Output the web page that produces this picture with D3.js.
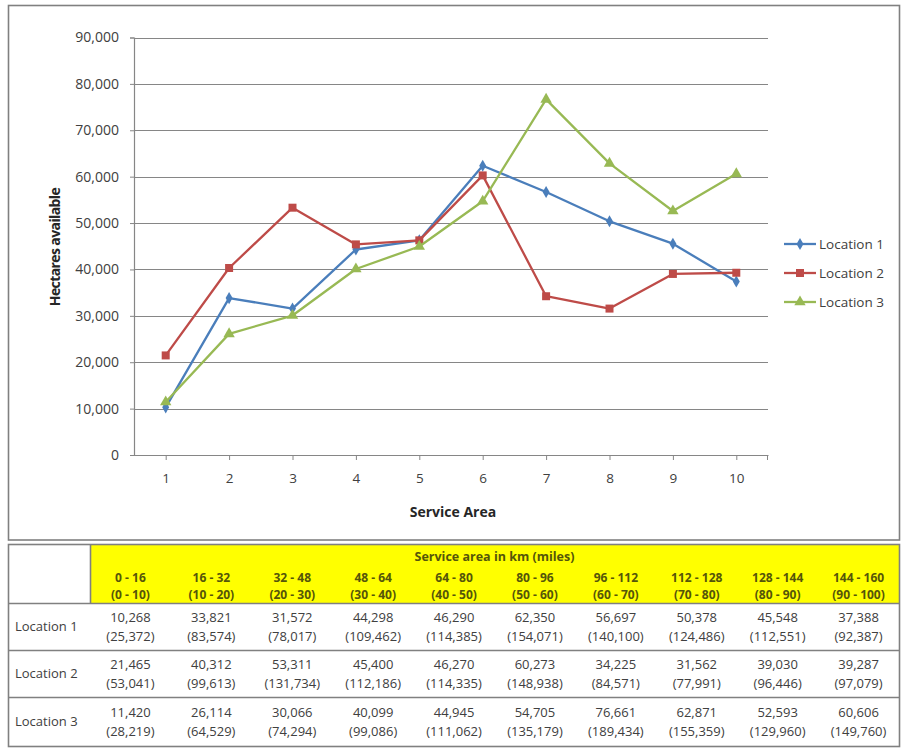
<!DOCTYPE html>
<html>
<head>
<meta charset="utf-8">
<script src="https://cdn.jsdelivr.net/npm/d3@7"></script>
<style>
  html, body { margin: 0; padding: 0; background: #fff; }
  svg { display: block; font-family: "Open Sans", "Liberation Sans", sans-serif; }
</style>
</head>
<body>
<svg id="chart" width="904" height="755"></svg>
<script>
// ---------- DATA ----------
const categories = ["1", "2", "3", "4", "5", "6", "7", "8", "9", "10"];
const seriesNames = ["Location 1", "Location 2", "Location 3"];
const location1 = [10268, 33821, 31572, 44298, 46290, 62350, 56697, 50378, 45548, 37388];
const location2 = [21465, 40312, 53311, 45400, 46270, 60273, 34225, 31562, 39030, 39287];
const location3 = [11420, 26114, 30066, 40099, 44945, 54705, 76661, 62871, 52593, 60606];
const location1Acres = ["25,372", "83,574", "78,017", "109,462", "114,385", "154,071", "140,100", "124,486", "112,551", "92,387"];
const location2Acres = ["53,041", "99,613", "131,734", "112,186", "114,335", "148,938", "84,571", "77,991", "96,446", "97,079"];
const location3Acres = ["28,219", "64,529", "74,294", "99,086", "111,062", "135,179", "189,434", "155,359", "129,960", "149,760"];
const kmRanges = ["0 - 16", "16 - 32", "32 - 48", "48 - 64", "64 - 80", "80 - 96", "96 - 112", "112 - 128", "128 - 144", "144 - 160"];
const mileRanges = ["(0 - 10)", "(10 - 20)", "(20 - 30)", "(30 - 40)", "(40 - 50)", "(50 - 60)", "(60 - 70)", "(70 - 80)", "(80 - 90)", "(90 - 100)"];
const yTicks = [0, 10000, 20000, 30000, 40000, 50000, 60000, 70000, 80000, 90000];
const xTitle = "Service Area";
const yTitle = "Hectares available";
const tableTitle = "Service area in km (miles)";

// ---------- STYLE ----------
const colors = ["#4a7ebb", "#be4b48", "#98b954"];
const textCol = "#404040";
const gridCol = "#868686";
const borderCol = "#808080";
const headerText = "#55550a";

const svg = d3.select("#chart");
const fmt = d3.format(",");

// chart frame
svg.append("rect").attr("x", 8.5).attr("y", 5.5).attr("width", 891).attr("height", 534.5)
  .attr("fill", "#fff").attr("stroke", borderCol).attr("stroke-width", 1.6);

const plot = { left: 134, right: 768, top: 37.5, bottom: 455 };
const x = d3.scalePoint().domain(categories).range([plot.left, plot.right]).padding(0.5);
const y = d3.scaleLinear().domain([0, 90000]).range([plot.bottom, plot.top]);

// gridlines
svg.append("g").selectAll("line").data(yTicks.filter(d => d > 0)).join("line")
  .attr("x1", plot.left).attr("x2", plot.right)
  .attr("y1", d => Math.round(y(d)) + 0.5).attr("y2", d => Math.round(y(d)) + 0.5)
  .attr("stroke", gridCol).attr("stroke-width", 1.2);

// y axis
const yAxis = svg.append("g").attr("transform", `translate(${plot.left},0)`)
  .call(d3.axisLeft(y).tickValues(yTicks).tickFormat(fmt).tickSize(4).tickPadding(11));
yAxis.select(".domain").attr("stroke", gridCol).attr("stroke-width", 1.2);
yAxis.selectAll(".tick line").attr("stroke", gridCol);
yAxis.selectAll("text").attr("fill", textCol).style("font-size", "14px")
  .style("font-family", "'Open Sans', sans-serif");

// x axis
const xAxis = svg.append("g").attr("transform", `translate(0,${plot.bottom})`)
  .call(d3.axisBottom(x).tickSizeInner(5).tickSizeOuter(0).tickPadding(13));
xAxis.select(".domain").attr("stroke", gridCol).attr("stroke-width", 1.2);
xAxis.selectAll(".tick line").attr("stroke", gridCol);
xAxis.selectAll("text").attr("fill", textCol).style("font-size", "13.5px")
  .style("font-family", "'Open Sans', sans-serif");
// end tick
xAxis.append("line").attr("x1", plot.right - 0.5).attr("x2", plot.right - 0.5)
  .attr("y1", 0).attr("y2", 5).attr("stroke", gridCol);

// axis titles
svg.append("text").attr("x", (plot.left + plot.right) / 2 + 2).attr("y", 517)
  .attr("text-anchor", "middle").attr("fill", "#262626")
  .style("font-size", "14px").style("font-weight", "bold").text(xTitle);
svg.append("text").attr("transform", `translate(60,247) rotate(-90)`)
  .attr("text-anchor", "middle").attr("fill", "#262626")
  .style("font-size", "14px").style("font-weight", "bold").style("letter-spacing", "-0.6px")
  .text(yTitle);

// series
const series = [location1, location2, location3];
const line = d3.line().x((d, i) => x(categories[i])).y(d => y(d));
const symbols = [d3.symbolDiamond, d3.symbolSquare, d3.symbolTriangle];
const symSizes = [42, 64, 56];

series.forEach((vals, si) => {
  const g = svg.append("g");
  g.append("path").datum(vals).attr("d", line).attr("fill", "none")
    .attr("stroke", colors[si]).attr("stroke-width", 2.3).attr("stroke-linejoin", "round");
  g.selectAll("path.m").data(vals).join("path").attr("class", "m")
    .attr("transform", (d, i) => `translate(${x(categories[i])},${y(d)})`)
    .attr("d", d3.symbol().type(symbols[si]).size(symSizes[si]))
    .attr("fill", colors[si]);
});

// legend
const legY = [244, 273, 302];
seriesNames.forEach((name, i) => {
  const g = svg.append("g").attr("transform", `translate(784,${legY[i]})`);
  g.append("line").attr("x1", 0).attr("x2", 32).attr("y1", 0).attr("y2", 0)
    .attr("stroke", colors[i]).attr("stroke-width", 2.3);
  g.append("path").attr("transform", "translate(16,0)")
    .attr("d", d3.symbol().type(symbols[i]).size(symSizes[i])).attr("fill", colors[i]);
  g.append("text").attr("x", 35).attr("y", 0).attr("dy", "0.35em")
    .attr("fill", textCol).style("font-size", "13.5px").text(name);
});

// ---------- TABLE ----------
const tbl = { left: 8, right: 899, top: 544, labelW: 82 };
const rowY = [544, 603, 650, 697, 746];
const colX = d3.scaleBand().domain(categories).range([tbl.left + tbl.labelW, tbl.right]);

const t = svg.append("g");
t.append("rect").attr("x", colX.range()[0]).attr("y", rowY[0])
  .attr("width", tbl.right - colX.range()[0]).attr("height", rowY[1] - rowY[0]).attr("fill", "#ffff00");
t.append("rect").attr("x", tbl.left + 0.5).attr("y", rowY[0] + 0.5)
  .attr("width", tbl.right - tbl.left).attr("height", rowY[4] - rowY[0])
  .attr("fill", "none").attr("stroke", borderCol).attr("stroke-width", 1.6);
rowY.slice(1, 4).forEach(ry => {
  t.append("line").attr("x1", tbl.left).attr("x2", tbl.right).attr("y1", ry + 0.5).attr("y2", ry + 0.5)
    .attr("stroke", borderCol).attr("stroke-width", 1.6);
});
t.append("line").attr("x1", colX.range()[0] + 0.5).attr("x2", colX.range()[0] + 0.5)
  .attr("y1", rowY[0]).attr("y2", rowY[1]).attr("stroke", borderCol).attr("stroke-width", 1.6);

// header
t.append("text").attr("x", (colX.range()[0] + tbl.right) / 2).attr("y", 561)
  .attr("text-anchor", "middle").attr("fill", headerText)
  .style("font-size", "12.5px").style("font-weight", "bold").text(tableTitle);
categories.forEach((c, i) => {
  const cx = colX(c) + colX.bandwidth() / 2;
  t.append("text").attr("x", cx).attr("y", 582).attr("text-anchor", "middle").attr("fill", headerText)
    .style("font-size", "12px").style("font-weight", "bold").text(kmRanges[i]);
  t.append("text").attr("x", cx).attr("y", 599).attr("text-anchor", "middle").attr("fill", headerText)
    .style("font-size", "12px").style("font-weight", "bold").text(mileRanges[i]);
});

// data rows
const acres = [location1Acres, location2Acres, location3Acres];
series.forEach((vals, r) => {
  const top = rowY[r + 1], bot = rowY[r + 2];
  const mid = (top + bot) / 2;
  t.append("text").attr("x", 15).attr("y", mid).attr("dy", "0.35em")
    .attr("fill", textCol).style("font-size", "13px").text(seriesNames[r]);
  vals.forEach((v, i) => {
    const cx = colX(categories[i]) + colX.bandwidth() / 2;
    t.append("text").attr("x", cx).attr("y", mid - 9.5).attr("dy", "0.35em").attr("text-anchor", "middle")
      .attr("fill", textCol).style("font-size", "13px").text(fmt(v));
    t.append("text").attr("x", cx).attr("y", mid + 9.5).attr("dy", "0.35em").attr("text-anchor", "middle")
      .attr("fill", textCol).style("font-size", "13px").text("(" + acres[r][i] + ")");
  });
});
</script>
</body>
</html>
